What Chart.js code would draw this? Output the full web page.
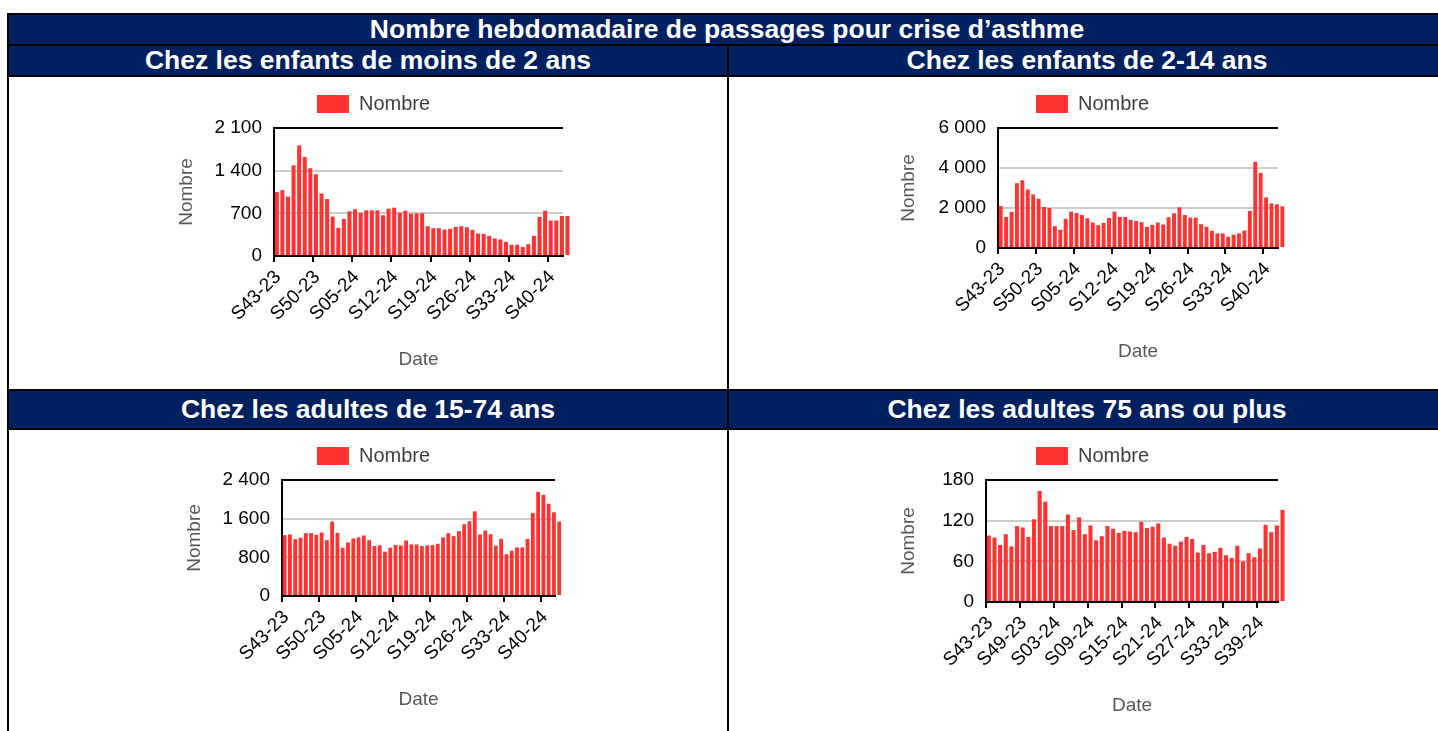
<!DOCTYPE html>
<html lang="fr">
<head>
  <meta charset="UTF-8">
  <title>Nombre hebdomadaire de passages pour crise d’asthme</title>
  <script src="https://cdn.jsdelivr.net/npm/chart.js"></script>
  <style>
    body {
      margin: 0;
      background: #fff;
      font-family: Arial, "Liberation Sans", sans-serif;
      overflow: hidden;
    }
    .bandeau {
      position: absolute;
      box-sizing: border-box;
      border: 2px solid #000;
      background: #002060;
      color: #fff;
      font-weight: bold;
      font-size: 26.5px;
      text-align: center;
      white-space: nowrap;
    }
    .cadre {
      position: absolute;
      box-sizing: border-box;
      border: 2px solid #000;
      background: #fff;
    }
    canvas {
      position: absolute;
    }
  </style>
</head>
<body>
  <div class="bandeau" style="left:7px; top:13px; width:1440px; height:33px; line-height:29px;">Nombre hebdomadaire de passages pour crise d’asthme</div>
  <div class="bandeau" style="left:7px; top:44px; width:722px; height:33px; line-height:29px;">Chez les enfants de moins de 2 ans</div>
  <div class="bandeau" style="left:727px; top:44px; width:720px; height:33px; line-height:29px;">Chez les enfants de 2-14 ans</div>
  <div class="cadre" style="left:7px; top:75px; width:722px; height:316px;"></div>
  <div class="cadre" style="left:727px; top:75px; width:720px; height:316px;"></div>
  <div class="bandeau" style="left:7px; top:389px; width:722px; height:41px; line-height:37px;">Chez les adultes de 15-74 ans</div>
  <div class="bandeau" style="left:727px; top:389px; width:720px; height:41px; line-height:37px;">Chez les adultes 75 ans ou plus</div>
  <div class="cadre" style="left:7px; top:428px; width:722px; height:320px;"></div>
  <div class="cadre" style="left:727px; top:428px; width:720px; height:320px;"></div>

  <canvas id="g1" width="427" height="291" style="left:160px; top:84px;"></canvas>
  <canvas id="g2" width="425" height="283" style="left:880px; top:84px;"></canvas>
  <canvas id="g3" width="417" height="279" style="left:165px; top:436px;"></canvas>
  <canvas id="g4" width="425" height="285" style="left:880px; top:436px;"></canvas>

  <script>
    // Semaines S43-23 à S43-24
    const semaines = [
      'S43-23', 'S44-23', 'S45-23', 'S46-23', 'S47-23', 'S48-23', 'S49-23', 'S50-23', 'S51-23', 'S52-23',
      'S01-24', 'S02-24', 'S03-24', 'S04-24', 'S05-24', 'S06-24', 'S07-24', 'S08-24', 'S09-24', 'S10-24',
      'S11-24', 'S12-24', 'S13-24', 'S14-24', 'S15-24', 'S16-24', 'S17-24', 'S18-24', 'S19-24', 'S20-24',
      'S21-24', 'S22-24', 'S23-24', 'S24-24', 'S25-24', 'S26-24', 'S27-24', 'S28-24', 'S29-24', 'S30-24',
      'S31-24', 'S32-24', 'S33-24', 'S34-24', 'S35-24', 'S36-24', 'S37-24', 'S38-24', 'S39-24', 'S40-24',
      'S41-24', 'S42-24', 'S43-24'
    ];

    // Passages par tranche d'âge
    const moins2ans = [
      1048, 1080, 972, 1488, 1814, 1624, 1439, 1341, 1026, 934,
      646, 462, 608, 733, 766, 706, 749, 749, 749, 668,
      776, 793, 711, 744, 695, 700, 700, 489, 456, 456,
      434, 445, 478, 489, 472, 429, 369, 364, 331, 288,
      271, 233, 185, 185, 147, 195, 331, 641, 744, 581,
      581, 657, 657
    ];
    const enfants2a14 = [
      2100, 1554, 1802, 3240, 3389, 2926, 2678, 2463, 2050, 2000,
      1091, 909, 1455, 1818, 1752, 1653, 1488, 1273, 1141, 1256,
      1504, 1818, 1554, 1554, 1405, 1350, 1289, 1058, 1157, 1273,
      1174, 1537, 1736, 2033, 1653, 1521, 1521, 1190, 1058, 860,
      727, 727, 562, 661, 727, 876, 1851, 4314, 3752, 2529,
      2231, 2182, 2083
    ];
    const adultes15a74 = [
      1259, 1272, 1176, 1204, 1300, 1300, 1265, 1313, 1156, 1539,
      1306, 999, 1108, 1190, 1211, 1252, 1156, 1033, 1047, 917,
      999, 1053, 1047, 1149, 1067, 1067, 1033, 1047, 1053, 1081,
      1211, 1300, 1238, 1341, 1484, 1546, 1751, 1272, 1354, 1279,
      1040, 1183, 862, 937, 1005, 1005, 1183, 1717, 2155, 2093,
      1908, 1731, 1539
    ];
    const plus75ans = [
      98, 95, 84, 100, 82, 112, 110, 96, 122, 164,
      148, 112, 112, 112, 129, 106, 125, 100, 113, 91,
      97, 112, 108, 102, 105, 104, 103, 118, 109, 111,
      116, 95, 86, 83, 89, 96, 93, 73, 84, 72,
      74, 80, 69, 65, 83, 60, 72, 66, 79, 114,
      103, 113, 136
    ];

    // Graduations
    const maxY = [2100, 6000, 2400, 180];
    const pasY = [700, 2000, 800, 60];
    const pasX = [7, 7, 7, 6];

    Chart.defaults.font.family = 'Arial, "Liberation Sans", sans-serif';
    Chart.defaults.font.size = 19;
    Chart.defaults.color = '#000';

    // ajoute un peu d'air entre la légende et la zone de tracé
    Chart.register({
      id: 'margeLegende',
      afterInit(chart, args, opts) {
        const fit = chart.legend.fit;
        chart.legend.fit = function () {
          fit.call(this);
          this.height += opts.extra || 0;
        };
      }
    });

    function espaces(v) {
      return String(v).replace(/\B(?=(\d{3})+(?!\d))/g, ' ');
    }

    function graphe(id, valeurs, k, largeurY, hauteurX, retraitTitre, margeDroite) {
      const points = valeurs.map((v, i) => ({ x: i + 0.5, y: v }));
      new Chart(document.getElementById(id), {
        type: 'bar',
        data: {
          datasets: [{
            label: 'Nombre',
            data: points,
            backgroundColor: '#ff3131',
            barPercentage: 0.72,
            categoryPercentage: 1,
            clip: false
          }]
        },
        options: {
          responsive: false,
          animation: false,
          devicePixelRatio: 1,
          plugins: {
            legend: {
              labels: { boxWidth: 32, boxHeight: 18, padding: 10, color: '#404040', font: { size: 20 } }
            },
            tooltip: { enabled: false },
            margeLegende: { extra: 4 }
          },
          scales: {
            x: {
              type: 'linear',
              min: 0,
              max: 51.7,
              offset: false,
              afterFit: s => { s.height = hauteurX; s.paddingRight = margeDroite; },
              ticks: {
                stepSize: pasX[k],
                autoSkip: false,
                includeBounds: false,
                minRotation: 45,
                maxRotation: 45,
                padding: 4,
                labelOffset: 4,
                callback: v => semaines[Math.round(v)]
              },
              grid: { offset: false, drawOnChartArea: false, color: '#000', lineWidth: 2, tickLength: 6 },
              border: { color: '#000', width: 2 },
              title: { display: true, text: 'Date', color: '#595959', padding: { top: 4, bottom: 4 } }
            },
            y: {
              min: 0,
              max: maxY[k],
              afterFit: s => { s.width = largeurY; },
              ticks: { stepSize: pasY[k], padding: 12, callback: v => espaces(v) },
              grid: {
                drawTicks: false,
                lineWidth: 2,
                color: c => c.tick.value === maxY[k] ? '#000' : '#cccccc'
              },
              border: { color: '#000', width: 2 },
              title: { display: true, text: 'Nombre', color: '#595959', padding: { top: retraitTitre, bottom: 0 } }
            }
          }
        }
      });
    }

    graphe('g1', moins2ans, 0, 114, 119, 15, 24);
    graphe('g2', enfants2a14, 1, 118, 119, 17, 27);
    graphe('g3', adultes15a74, 2, 117, 119, 18, 27);
    graphe('g4', plus75ans, 3, 106, 119, 17, 27);
  </script>
</body>
</html>
